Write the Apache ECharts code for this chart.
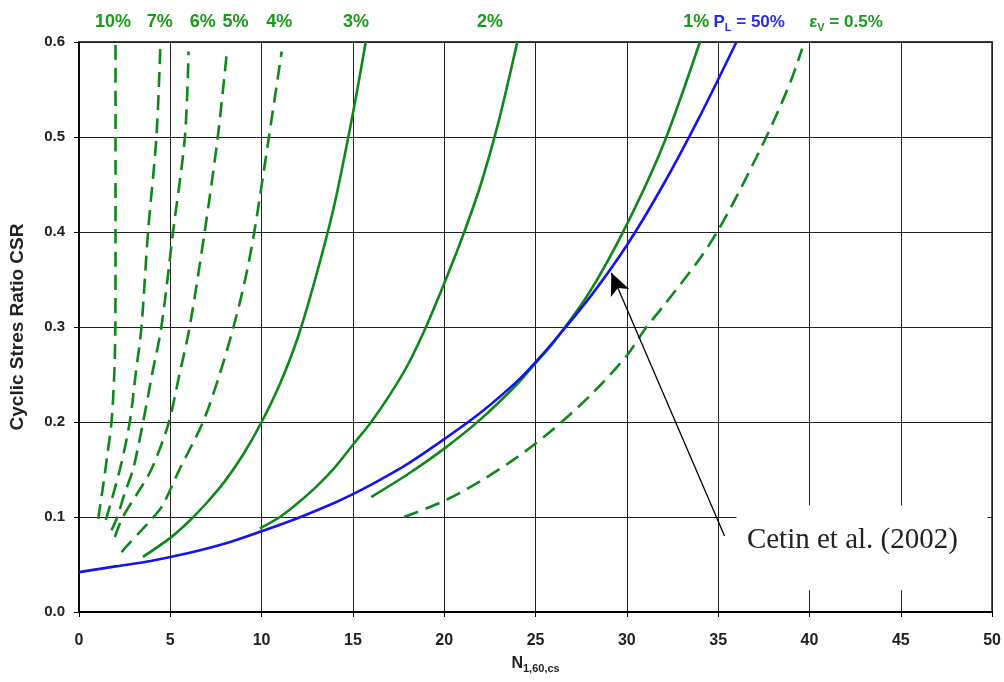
<!DOCTYPE html>
<html>
<head>
<meta charset="utf-8">
<script src="https://cdn.jsdelivr.net/npm/echarts@6/dist/echarts.min.js"></script>
<style>html,body{margin:0;padding:0;background:#fff}#c{width:1004px;height:682px}</style>
</head>
<body>
<div id="c"></div>
<script>
// ---- data ----
var xTicks = [0, 5, 10, 15, 20, 25, 30, 35, 40, 45, 50];
var yTicks = [0.0, 0.1, 0.2, 0.3, 0.4, 0.5, 0.6];

var curvePL50 = [[0,0.042],[2,0.048],[4,0.054],[6,0.062],[8,0.072],[10,0.085],[12,0.099],[14,0.115],[15,0.124],[16,0.134],[18,0.156],[20,0.182],[22,0.21],[24,0.243],[25,0.263],[26,0.285],[28,0.332],[30,0.386],[32,0.45],[34,0.522],[36,0.6]];
var curve05 = [[17.8,0.1],[20,0.117],[22,0.138],[24,0.163],[26,0.193],[28,0.228],[30,0.27],[31,0.298],[32,0.322],[34,0.372],[35,0.402],[36,0.437],[37,0.475],[38,0.515],[39,0.56],[39.6,0.593]];
var curve1 = [[16,0.121],[18,0.145],[20,0.172],[22,0.203],[24,0.24],[25,0.262],[26,0.284],[28,0.338],[30,0.408],[32,0.492],[34,0.6]];
var curve2 = [[9.9,0.088],[11,0.1],[12,0.115],[13,0.132],[14,0.152],[15,0.176],[16,0.2],[17,0.228],[18,0.26],[19,0.3],[20,0.346],[21,0.395],[22,0.45],[23,0.518],[24,0.6]];
var curve3 = [[3.5,0.058],[5,0.078],[6,0.095],[7,0.115],[8,0.138],[9,0.166],[10,0.2],[11,0.24],[12,0.29],[13,0.355],[14,0.43],[15,0.525],[15.7,0.6]];
var curve4 = [[2.33,0.063],[2.6,0.069],[3.42,0.086],[4.0,0.098],[4.6,0.113],[5.5,0.15],[6.79,0.2],[7.7,0.25],[8.46,0.3],[9.1,0.35],[9.6,0.4],[10.4,0.5],[11.1,0.59]];
var curve5 = [[1.96,0.079],[2.4,0.1],[3.2,0.125],[3.96,0.15],[4.88,0.197],[5.5,0.25],[6.06,0.3],[6.88,0.4],[7.6,0.5],[8.1,0.59]];
var curve6 = [[1.78,0.086],[2.1,0.1],[2.5,0.125],[2.96,0.15],[3.51,0.2],[4.0,0.25],[4.51,0.3],[5.15,0.4],[5.8,0.5],[6.0,0.59]];
var curve7 = [[1.47,0.097],[2.24,0.15],[2.78,0.2],[3.1,0.25],[3.42,0.3],[3.78,0.4],[4.24,0.5],[4.46,0.598]];
var curve10 = [[1.05,0.098],[1.3,0.13],[1.55,0.165],[1.78,0.2],[1.93,0.25],[1.99,0.3],[2.0,0.4],[2.0,0.5],[2.0,0.6]];

var curveLabels = ['10%', '7%', '6%', '5%', '4%', '3%', '2%', '1%'];
var curveLabelX = [1.86, 4.42, 6.77, 8.57, 10.97, 15.17, 22.5, 33.8];
var plLabelX = 36.7;
var evLabelX = 42.0;

var arrowFrom = [35.35, 0.08];
var arrowTo = [29.15, 0.357];
var noteText = 'Cetin et al. (2002)';
var notePos = [42.35, 0.075];

// ---- chart ----
var GREEN = '#0f871a';
var BLUE = '#1414f0';
var FONT = 'Liberation Sans, Arial, sans-serif';
var chart = echarts.init(document.getElementById('c'));

function greenLine(name, data, dashed) {
  return {
    name: name, type: 'line', data: data, smooth: 0.3, symbol: 'none', z: 3,
    lineStyle: { color: GREEN, width: 2.6, type: dashed ? [15, 8] : 'solid' }
  };
}

var option = {
  animation: false,
  backgroundColor: '#fff',
  grid: { left: 79, right: 9, top: 42, bottom: 70, show: true, borderColor: '#000', borderWidth: 1.5 },
  xAxis: {
    type: 'value', min: 0, max: 50, interval: 5,
    name: '{n|N}{s|1,60,cs}', nameLocation: 'middle', nameGap: 42,
    nameTextStyle: { rich: {
      n: { fontFamily: FONT, fontWeight: 'bold', fontSize: 16, color: '#222' },
      s: { fontFamily: FONT, fontWeight: 'bold', fontSize: 11, color: '#222', padding: [9, 0, 0, 0] }
    } },
    axisLine: { lineStyle: { color: '#000', width: 2.2 } },
    axisTick: { show: true, length: 5, lineStyle: { color: '#000' } },
    axisLabel: { fontFamily: FONT, fontWeight: 'bold', fontSize: 16, color: '#222', margin: 21 },
    splitLine: { show: true, lineStyle: { color: '#222', width: 1 } }
  },
  yAxis: {
    type: 'value', min: 0, max: 0.6, interval: 0.1,
    name: 'Cyclic Stres Ratio CSR', nameLocation: 'middle', nameGap: 52, nameRotate: 90,
    nameTextStyle: { fontFamily: FONT, fontWeight: 'bold', fontSize: 19, color: '#222' },
    axisLine: { lineStyle: { color: '#000', width: 1.5 } },
    axisTick: { show: true, length: 5, lineStyle: { color: '#000' } },
    axisLabel: { fontFamily: FONT, fontWeight: 'bold', fontSize: 15, color: '#222', margin: 14,
      formatter: function (v) { return v.toFixed(1); } },
    splitLine: { show: true, lineStyle: { color: '#222', width: 1 } }
  },
  series: [
    greenLine('10%', curve10, true),
    greenLine('7%', curve7, true),
    greenLine('6%', curve6, true),
    greenLine('5%', curve5, true),
    greenLine('4%', curve4, true),
    greenLine('3%', curve3, false),
    greenLine('2%', curve2, false),
    greenLine('1%', curve1, false),
    greenLine('0.5%', curve05, true),
    {
      name: 'PL=50%', type: 'line', data: curvePL50, smooth: 0.3, symbol: 'none', z: 4,
      lineStyle: { color: BLUE, width: 2.6 },
      markLine: {
        silent: true, symbol: ['none', 'arrow'], symbolSize: [15, 22], animation: false,
        label: { show: false },
        lineStyle: { color: '#000', width: 1.3, type: 'solid' },
        data: [[{ coord: arrowFrom }, { coord: arrowTo }]]
      }
    }
  ]
};
chart.setOption(option);

// annotations placed from data coordinates
var gfx = [];
var labelStyle = { fontFamily: FONT, fontWeight: 'bold', fontSize: 18, fill: '#1a9a1a' };
curveLabels.forEach(function (t, i) {
  var p = chart.convertToPixel('grid', [curveLabelX[i], 0.6]);
  gfx.push({ type: 'text', x: p[0], y: 22, style: Object.assign({ text: t, align: 'center', verticalAlign: 'middle' }, labelStyle) });
});
var pPL = chart.convertToPixel('grid', [plLabelX, 0.6]);
gfx.push({ type: 'text', x: pPL[0], y: 22, style: {
  text: '{a|P}{s|L}{a| = 50%}', align: 'center', verticalAlign: 'middle',
  rich: { a: { fontFamily: FONT, fontWeight: 'bold', fontSize: 17, fill: '#2a2af0' },
          s: { fontFamily: FONT, fontWeight: 'bold', fontSize: 11, fill: '#2a2af0', padding: [11, 0, 0, 0] } } } });
var pEV = chart.convertToPixel('grid', [evLabelX, 0.6]);
gfx.push({ type: 'text', x: pEV[0], y: 22, style: {
  text: '{a|ε}{s|V}{a| = 0.5%}', align: 'center', verticalAlign: 'middle',
  rich: { a: { fontFamily: FONT, fontWeight: 'bold', fontSize: 17, fill: '#1a9a1a' },
          s: { fontFamily: FONT, fontWeight: 'bold', fontSize: 11, fill: '#1a9a1a', padding: [11, 0, 0, 0] } } } });
var pN = chart.convertToPixel('grid', notePos);
var pBoxL = chart.convertToPixel('grid', [36.0, 0.112]);
var pBoxR = chart.convertToPixel('grid', [49.75, 0.023]);
gfx.push({ type: 'rect', z: 2, shape: { x: pBoxL[0], y: pBoxL[1], width: pBoxR[0] - pBoxL[0], height: pBoxR[1] - pBoxL[1] }, style: { fill: '#fff' } });
gfx.push({ type: 'text', z: 3, x: pN[0], y: pN[1], style: { text: noteText, align: 'center', verticalAlign: 'middle',
  fontFamily: 'Liberation Serif, Times New Roman, serif', fontSize: 29, fill: '#222' } });
chart.setOption({ graphic: gfx });
</script>
</body>
</html>
